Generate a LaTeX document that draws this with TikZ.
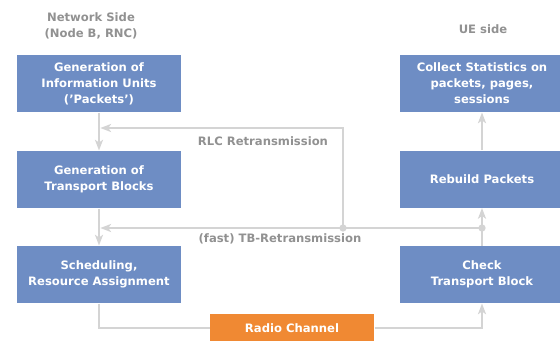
\documentclass[tikz,border=0pt]{standalone}
\usepackage{fontspec}
\setmainfont{DejaVu Sans}
\usetikzlibrary{arrows.meta}

\definecolor{boxblue}{RGB}{110,141,196}
\definecolor{chanorange}{RGB}{240,137,51}
\definecolor{linegray}{RGB}{212,212,212}
\definecolor{labelgray}{RGB}{145,145,145}

\tikzset{every picture/.style={line width=0.75pt}}
\tikzset{
  stepbox/.style={fill=boxblue, draw=none, minimum width=123pt, minimum height=42.75pt,
    inner sep=0pt, align=center, text=white, font=\fontsize{8.7}{12}\selectfont\bfseries},
  chanbox/.style={fill=chanorange, draw=none, minimum width=123pt, minimum height=21pt,
    inner sep=0pt, text=white, font=\fontsize{8.7}{12}\selectfont\bfseries},
  sidelabel/.style={align=center, inner sep=0.75pt, text=labelgray, font=\fontsize{8.7}{12}\selectfont\bfseries},
  flow/.style={draw=linegray, line width=1.5pt},
  flowarrow/.style={flow, -{Stealth[length=8pt,width=6pt,inset=2pt]}},
  junction/.style={circle, fill=linegray, inner sep=0pt, minimum size=5.5pt}
}

\begin{document}
\begin{tikzpicture}[x=0.75pt,y=0.75pt,yscale=-1,xscale=1]
\useasboundingbox (0,0) rectangle (560,340);

% Network side boxes
\node [stepbox] (genunits) at (99,83.5) {Generation of\\Information Units\\(’Packets’)};
\node [stepbox] (gentb) at (99,179.5) {Generation of\\Transport Blocks};
\node [stepbox] (sched) at (99,274.5) {Scheduling,\\Resource Assignment};

% UE side boxes
\node [stepbox] (stats) at (482,83.5) {Collect Statistics on\\packets, pages,\\sessions};
\node [stepbox] (rebuild) at (482,179) {Rebuild Packets};
\node [stepbox] (check) at (482,274.5) {Check\\Transport Block};

% Radio channel
\node [chanbox] (radio) at (292,328) {Radio Channel};

% Text Node
\node [sidelabel] (netside) at (91,26) {Network Side\\(Node B, RNC)};
% Text Node
\node [sidelabel] (ueside) at (483,29) {UE side};

% junctions
\coordinate (rlcjoin) at (343,228);
\coordinate (rlctop) at (343,128);
\coordinate (tbjoin) at (482,228);

% Straight Lines
\draw [flowarrow] (genunits) -- (gentb);
\draw [flowarrow] (gentb) -- (sched);
\draw [flow] (sched.south) |- (radio.west);
\draw [flowarrow] (radio.east) -| (check.south);
\draw [flowarrow] (check) -- (rebuild);
\draw [flowarrow] (rebuild) -- (stats);

% retransmission paths
\draw [flowarrow] (tbjoin) -- ([xshift=1pt]gentb.south |- tbjoin);
\draw [flowarrow] (rlcjoin) -- (rlctop) -- ([xshift=1pt]genunits.south |- rlctop);
\node [junction] (rlcdot) at (rlcjoin) {};
\node [junction] (tbdot) at (tbjoin) {};

% Text Node
\node [sidelabel] (rlclabel) at (263,141) {RLC Retransmission};
% Text Node
\node [sidelabel] (tblabel) at (280,239) {(fast) TB-Retransmission};

\end{tikzpicture}
\end{document}
